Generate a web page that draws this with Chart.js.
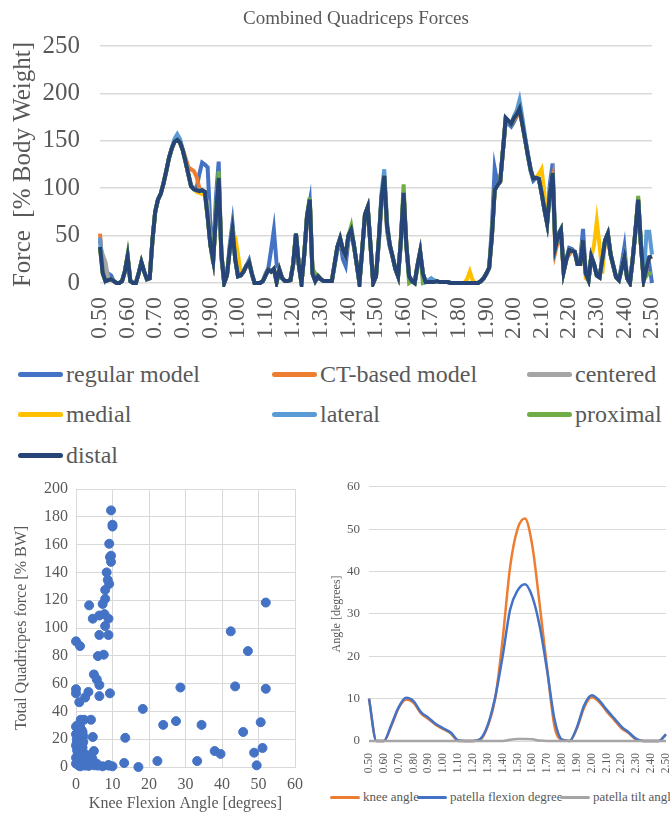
<!DOCTYPE html>
<html>
<head>
<meta charset="utf-8">
<title>Quadriceps forces</title>
<script src="https://cdn.jsdelivr.net/npm/chart.js@4.4.1/dist/chart.umd.min.js"></script>
<style>
  html, body { margin: 0; padding: 0; background: #fff; }
  #page { position: relative; width: 670px; height: 814px; overflow: hidden;
          font-family: "Liberation Serif", "Times New Roman", serif; color: #595959; }
  .box { position: absolute; }
  .chart-title { position: absolute; left: 156px; width: 400px; top: 7px; text-align: center;
                 font-size: 19px; line-height: 22px; }
  .legend-item { position: absolute; display: flex; align-items: center; white-space: nowrap; }
  .legend-item.big { font-size: 24px; line-height: 30px; }
  .legend-item.small { font-size: 13px; line-height: 16px; }
  .swatch { display: inline-block; border-radius: 3px; margin-right: 3px; }
</style>
</head>
<body>
<div id="page">
  <div class="box" style="left:0;top:0"><canvas id="forceChart" width="670" height="345"></canvas></div>
  <div class="chart-title">Combined Quadriceps Forces</div>
  <div id="forceLegend"></div>
  <div class="box" style="left:0;top:470px"><canvas id="scatterChart" width="330" height="344"></canvas></div>
  <div class="box" style="left:330px;top:470px"><canvas id="angleChart" width="360" height="312"></canvas></div>
  <div id="angleLegend"></div>
</div>
<script>
// time axis, 0.50 .. 2.50 s
const forceTimes = [];
for (let t = 50; t <= 250; t++) forceTimes.push((t / 100).toFixed(2));
const angleTimes = [];
for (let t = 50; t <= 250; t += 5) angleTimes.push((t / 100).toFixed(2));

// Combined quadriceps force [% body weight], one value per 0.01 s
const regularModel = [
  45,20,4,10,8,2,0,0,2,12, 28,2,0,0,10,22,12,4,5,45,
  75,88,94,105,118,132,142,150,154,150, 140,128,115,103,100,100,115,127,125,122,
  60,28,90,128,25,0,8,40,63,30, 9,8,12,18,24,10,0,0,0,2,
  10,16,35,56,20,14,5,2,2,3, 20,52,20,0,30,70,86,10,2,5,
  4,2,2,2,2,18,35,45,25,18, 45,52,38,20,0,35,70,78,40,0,
  7,40,85,110,55,38,28,15,7,40, 88,38,7,2,0,16,30,10,1,1,
  1,1,2,1,1,1,1,0,0,0, 0,0,0,0,0,0,0,0,2,5,
  10,16,60,121,105,107,140,170,168,165, 170,176,186,170,152,135,118,108,111,110,
  95,78,63,105,126,40,52,57,14,25, 37,36,33,22,25,57,10,3,28,18,
  8,6,25,45,50,30,18,6,3,20, 38,5,0,25,55,85,40,3,15,20,
  0
];
const ctBasedModel = [
  52,15,3,3,4,2,0,0,2,12, 28,2,0,0,10,22,12,4,5,45,
  75,88,94,105,118,132,142,149,152,149, 141,132,122,120,118,112,100,98,96,70,
  40,24,70,111,30,0,8,35,56,25, 7,8,12,18,22,10,0,0,0,2,
  8,14,12,15,1,14,5,2,2,3, 20,52,20,0,30,70,88,10,2,7,
  4,2,2,2,2,20,38,47,35,29, 50,56,40,20,0,35,72,80,40,0,
  7,45,90,113,60,40,28,15,7,45, 95,40,7,2,0,18,33,10,1,1,
  1,1,2,1,1,1,1,0,0,0, 0,0,0,0,0,0,0,0,2,5,
  10,16,50,98,103,107,140,172,170,168, 172,176,182,168,152,135,120,110,111,110,
  95,78,63,95,110,33,45,50,12,25, 30,34,33,20,20,45,10,3,28,20,
  8,6,25,45,52,30,18,6,3,15, 27,5,0,25,55,88,40,3,15,27,
  28
];
const centered = [
  38,30,22,5,4,2,0,0,2,12, 28,2,0,0,10,22,12,4,5,45,
  75,88,94,105,118,132,142,149,151,148, 140,128,115,102,99,98,97,96,92,85,
  40,24,70,111,30,0,8,35,56,25, 7,8,12,18,22,10,0,0,0,2,
  8,14,12,15,1,14,5,2,2,3, 20,52,20,0,30,70,88,10,2,7,
  4,2,2,2,2,20,38,47,35,29, 50,56,40,20,0,35,72,80,40,0,
  7,45,90,113,60,40,28,15,7,45, 95,40,7,2,0,18,33,10,1,1,
  1,1,2,1,1,1,1,0,0,0, 0,0,0,0,0,0,0,0,2,5,
  10,16,50,98,103,107,140,174,171,168, 174,178,184,168,152,135,120,110,111,110,
  95,78,63,95,116,38,50,56,12,25, 35,34,33,20,20,45,10,3,28,20,
  8,6,25,45,52,30,18,6,3,15, 27,5,0,25,55,88,40,3,15,27,
  28
];
const medial = [
  38,10,2,3,4,2,0,0,2,12, 28,2,0,0,10,22,12,4,5,45,
  75,88,94,105,118,132,142,149,151,148, 140,128,115,102,99,96,95,94,93,70,
  40,24,70,111,30,0,8,35,50,48, 30,10,12,18,22,10,0,0,0,2,
  8,14,12,15,1,14,5,2,2,3, 20,52,20,0,30,70,88,10,2,7,
  4,2,2,2,2,20,38,47,35,29, 50,56,40,20,0,35,72,80,40,0,
  7,45,90,113,60,40,28,15,7,45, 95,40,7,2,0,18,33,10,1,1,
  1,1,2,1,1,1,1,0,0,0, 0,0,0,4,12,3,0,0,2,5,
  10,16,50,98,103,107,140,174,171,168, 174,178,184,168,152,135,120,110,111,115,
  120,95,63,95,116,38,50,56,12,25, 35,34,33,20,20,45,5,3,28,40,
  65,40,10,45,52,30,18,6,3,15, 27,5,0,25,55,88,40,3,15,27,
  28
];
const lateral = [
  48,12,2,3,4,2,0,0,2,12, 28,2,0,0,10,22,12,4,5,45,
  75,88,94,105,118,132,142,152,157,152, 140,128,115,102,99,98,97,98,96,70,
  40,24,70,111,30,0,8,35,56,25, 7,8,12,18,22,10,0,0,0,2,
  8,14,12,15,1,14,5,2,2,3, 20,52,20,0,30,70,88,10,2,7,
  4,2,2,2,2,20,38,47,35,29, 50,56,40,20,0,35,72,80,40,0,
  7,45,95,120,65,40,28,15,7,45, 95,40,7,2,0,18,33,10,1,3,
  5,3,2,1,1,1,1,0,0,0, 0,0,0,0,0,0,0,0,2,5,
  10,16,50,98,103,107,140,174,171,168, 176,182,193,175,155,137,120,110,111,110,
  95,78,63,95,116,38,50,56,12,25, 35,34,33,20,20,45,10,3,28,20,
  8,6,25,45,52,30,18,6,3,15, 27,5,0,25,55,86,40,3,54,54,
  30
];
const proximal = [
  38,10,2,3,4,2,0,0,2,12, 30,2,0,0,10,22,12,4,5,45,
  75,88,94,105,118,132,142,149,151,148, 140,128,115,102,99,98,97,98,96,70,
  40,20,75,118,30,0,8,35,56,25, 7,8,12,18,22,10,0,0,0,2,
  8,14,12,15,1,14,5,2,2,3, 20,52,20,0,30,72,90,15,10,8,
  4,2,2,2,2,20,38,47,35,29, 50,60,40,20,0,35,72,80,40,0,
  7,45,90,113,60,40,28,15,7,45, 104,40,0,2,0,18,33,0,1,1,
  1,1,2,1,1,1,1,0,0,0, 0,0,0,0,0,0,0,0,2,5,
  10,16,50,98,103,107,140,174,171,168, 174,178,184,168,152,135,120,110,111,110,
  95,78,63,95,116,38,50,56,12,25, 35,34,33,20,20,45,10,3,28,20,
  8,6,25,45,52,30,18,6,3,15, 27,5,0,25,55,92,40,3,8,10,
  10
];
const distal = [
  38,10,2,3,4,2,0,0,2,12, 28,2,0,0,10,22,12,4,5,45,
  75,88,94,105,118,132,142,149,151,148, 140,128,115,102,99,98,97,98,96,70,
  40,24,70,111,30,0,8,35,56,25, 7,8,12,18,22,10,0,0,0,2,
  8,14,12,15,1,14,5,2,2,3, 20,52,20,0,30,70,88,10,2,7,
  4,2,2,2,2,20,38,47,35,29, 50,56,40,20,0,35,72,80,40,0,
  7,45,90,113,60,40,28,15,7,45, 95,40,7,2,0,18,33,10,1,1,
  1,1,2,1,1,1,1,0,0,0, 0,0,0,0,0,0,0,0,2,5,
  10,16,50,98,103,107,140,174,171,168, 174,178,184,168,152,135,120,110,111,110,
  95,78,63,95,116,38,50,56,12,25, 35,34,33,20,20,45,10,3,28,20,
  8,6,25,45,52,30,18,6,3,15, 27,5,0,25,55,88,40,3,15,27,
  28
];
const forceNames = ['regular model', 'CT-based model', 'centered', 'medial', 'lateral', 'proximal', 'distal'];
const forceValues = [regularModel, ctBasedModel, centered, medial, lateral, proximal, distal];
const forceColors = ['#4472C4', '#ED7D31', '#A5A5A5', '#FFC000', '#5B9BD5', '#70AD47', '#264478'];

// scatter: knee flexion angle [deg] vs total quadriceps force [% BW]
const kneeFlexion = [
  9.6,10.0,10.0,9.1,9.3,9.6,9.6,8.4,8.7,9.1, 8.0,8.0,7.3,3.6,4.6,6.4,7.8,8.9,8.0,6.4,
  8.9,0,1.1,6.0,7.6,4.9,5.7,6.4,0,0, 3.4,2.5,0.9,6.4,9.3,1.3,2.2,4.1,0,1.1,
  0.6,1.6,0,2.0,4.6,0.2,0,1.6,1.8,2.7, 4.9,0,0.7,0,2.0,3.8,5.0,5.7,7.3,8.9,
  10.0,13.2,13.5,17.1,18.3,22.3,23.9,27.4,28.6,33.2, 34.4,38.0,39.6,42.4,43.6,45.8,47.1,48.8,49.5,50.6,
  51.1,52.0,52.0,0.5,1.0,0.3,1.5,0.8,2.5,1.0, 2.0,0.4,3.0,0.2,1.2,3.5,4.5,6.0,9.0,1.8
];
const totalForce = [
  184.6,174.3,173,160.6,151,152,147.6,140,134.6,131.7, 127.4,121,117.3,116.3,106.7,109,110,106.7,101.4,95,
  95,90.4,87,79.8,80.8,66.6,63,59,56,53, 54,50,46.6,51,53,34,34,34,29,29.3,
  26.4,26.4,23.6,22,21.6,20,15.4,16.8,14,9, 11.5,6.7,4.8,2.4,2.4,4.3,1.2,2.4,0.5,1.4,
  0.5,2.9,21,0,41.8,4.3,30.3,33,57.2,4.3, 30.3,11.5,9.4,97.6,58,25.2,83.4,10.3,1.2,32.2,
  13.7,118.3,56.3,10,8,12,3,1,1,22, 18,30,8,17,0.5,0.8,6,1,1,25
];

// angles [degrees], one value per 0.05 s
const kneeAngle = [
  10,0,0,3.5,7.8,9.8,9.0,6.5,5.2,3.8, 2.8,1.8,0,0,0,0.3,3.5,10,24,41,
  50,52.5,46,32,17,3.3,0.3,0,3,8, 10.3,9.2,7,5,3,1.8,0.3,0,0,0, 1.5
];
const patellaFlexion = [
  10,0,0,3.8,8,10.2,9.4,6.8,5.5,4, 3,2,0.2,0,0,0.5,3.8,10.4,20,31,
  35.5,37,34,27,16.5,5,0.3,0,3.2,8.5, 10.8,9.6,7.4,5.4,3.4,2,0.5,0,0,0, 1.6
];
const patellaTilt = [
  0,0,0,0,0,0,0,0,0,0, 0,0,0,0,0,0,0,0,0,0.3,
  0.5,0.5,0.4,0.1,0,0,0,0,0,0, 0,0,0,0,0,0,0,0,0,0, 0
];
const angleNames = ['knee angle', 'patella flexion degree', 'patella tilt angle'];
const angleColors = ['#ED7D31', '#4472C4', '#A5A5A5'];

const FONT = "'Liberation Serif', 'Times New Roman', serif";
const TEXT = '#595959';
const GRID = '#D9D9D9';

function everyNth(n) {
  return function (value, index) {
    return index % n === 0 ? this.getLabelForValue(value) : '';
  };
}

// --- top: combined quadriceps forces
new Chart(document.getElementById('forceChart'), {
  type: 'line',
  data: {
    labels: forceTimes,
    datasets: forceValues.map((vals, i) => ({
      label: forceNames[i],
      data: vals,
      borderColor: forceColors[i],
      backgroundColor: forceColors[i],
      borderWidth: 4,
      pointRadius: 0,
      tension: 0,
      clip: 4,
      order: forceValues.length - i   // distal ends up on top
    }))
  },
  options: {
    responsive: false,
    animation: false,
    layout: { padding: { left: 8, right: 18, top: 46, bottom: 0 } },
    plugins: { legend: { display: false }, tooltip: { enabled: false } },
    scales: {
      x: {
        grid: { display: false },
        border: { display: false },
        ticks: { autoSkip: false, minRotation: 90, maxRotation: 90, padding: 6,
                 color: TEXT, font: { family: FONT, size: 24 }, callback: everyNth(10) },
        afterFit(s) { s.height = 62; s.paddingLeft = 0; s.paddingRight = 0; }
      },
      y: {
        min: 0, max: 250,
        ticks: { stepSize: 50, padding: 20, color: TEXT, font: { family: FONT, size: 25 } },
        grid: { color: GRID, lineWidth: 1.5, drawTicks: false },
        border: { display: false },
        title: { display: true, text: 'Force  [% Body Weight]', color: TEXT,
                 font: { family: FONT, size: 25 }, padding: 0 },
        afterFit(s) { s.width = 92; }
      }
    }
  }
});

const forceLegend = document.getElementById('forceLegend');
const LEGEND_X = [18, 272, 527];
const LEGEND_Y = [374, 414, 455];
forceNames.forEach((name, i) => {
  const item = document.createElement('div');
  item.className = 'legend-item big';
  item.style.left = LEGEND_X[i % 3] + 'px';
  item.style.top = (LEGEND_Y[Math.floor(i / 3)] - 15) + 'px';
  item.innerHTML = '<span class="swatch" style="width:45px;height:5px;background:' + forceColors[i] + '"></span><span>' + name + '</span>';
  forceLegend.appendChild(item);
});

// --- bottom left: force vs knee flexion
new Chart(document.getElementById('scatterChart'), {
  type: 'scatter',
  data: {
    datasets: [{
      data: kneeFlexion.map((x, i) => ({ x: x, y: totalForce[i] })),
      backgroundColor: '#4472C4',
      borderColor: '#4472C4',
      pointRadius: 4.5,
      clip: false
    }]
  },
  options: {
    responsive: false,
    animation: false,
    layout: { padding: { left: 12, right: 35, top: 19, bottom: 0 } },
    plugins: { legend: { display: false }, tooltip: { enabled: false } },
    scales: {
      x: {
        min: 0, max: 60,
        ticks: { stepSize: 10, padding: 8, color: TEXT, font: { family: FONT, size: 16 } },
        grid: { color: GRID, drawTicks: false },
        border: { color: GRID },
        title: { display: true, text: 'Knee Flexion Angle [degrees]', color: TEXT,
                 font: { family: FONT, size: 16 }, padding: { top: 0, bottom: 1 } },
        afterFit(s) { s.height = 47; s.paddingLeft = 0; s.paddingRight = 0; }
      },
      y: {
        min: 0, max: 200,
        ticks: { stepSize: 20, padding: 8, color: TEXT, font: { family: FONT, size: 16 } },
        grid: { color: GRID, drawTicks: false },
        border: { color: GRID },
        title: { display: true, text: 'Total Quadricpes force [% BW]', color: TEXT,
                 font: { family: FONT, size: 16 }, padding: 0 },
        afterFit(s) { s.width = 64; }
      }
    }
  }
});

// --- bottom right: angles
new Chart(document.getElementById('angleChart'), {
  type: 'line',
  data: {
    labels: angleTimes,
    datasets: [kneeAngle, patellaFlexion, patellaTilt].map((vals, i) => ({
      label: angleNames[i],
      data: vals,
      borderColor: angleColors[i],
      backgroundColor: angleColors[i],
      borderWidth: 2.5,
      pointRadius: 0,
      cubicInterpolationMode: 'monotone',
      clip: 3,
      order: 3 - i
    }))
  },
  options: {
    responsive: false,
    animation: false,
    layout: { padding: { left: 0, right: 24, top: 16, bottom: 0 } },
    plugins: { legend: { display: false }, tooltip: { enabled: false } },
    scales: {
      x: {
        grid: { display: false },
        border: { display: false },
        ticks: { autoSkip: false, minRotation: 90, maxRotation: 90, padding: 4,
                 color: TEXT, font: { family: FONT, size: 11.5 }, callback: everyNth(2) },
        afterFit(s) { s.height = 41; s.paddingLeft = 0; s.paddingRight = 0; }
      },
      y: {
        min: 0, max: 60,
        ticks: { stepSize: 10, padding: 9, color: TEXT, font: { family: FONT, size: 13 } },
        grid: { color: GRID, drawTicks: false },
        border: { display: false },
        title: { display: true, text: 'Angle [degrees]', color: TEXT,
                 font: { family: FONT, size: 12 }, padding: 0 },
        afterFit(s) { s.width = 39; }
      }
    }
  }
});

const angleLegend = document.getElementById('angleLegend');
const SMALL_X = [330, 417, 560];
angleNames.forEach((name, i) => {
  const item = document.createElement('div');
  item.className = 'legend-item small';
  item.style.left = SMALL_X[i] + 'px';
  item.style.top = '789px';
  item.innerHTML = '<span class="swatch" style="width:30px;height:3px;background:' + angleColors[i] + '"></span><span>' + name + '</span>';
  angleLegend.appendChild(item);
});
</script>
</body>
</html>
